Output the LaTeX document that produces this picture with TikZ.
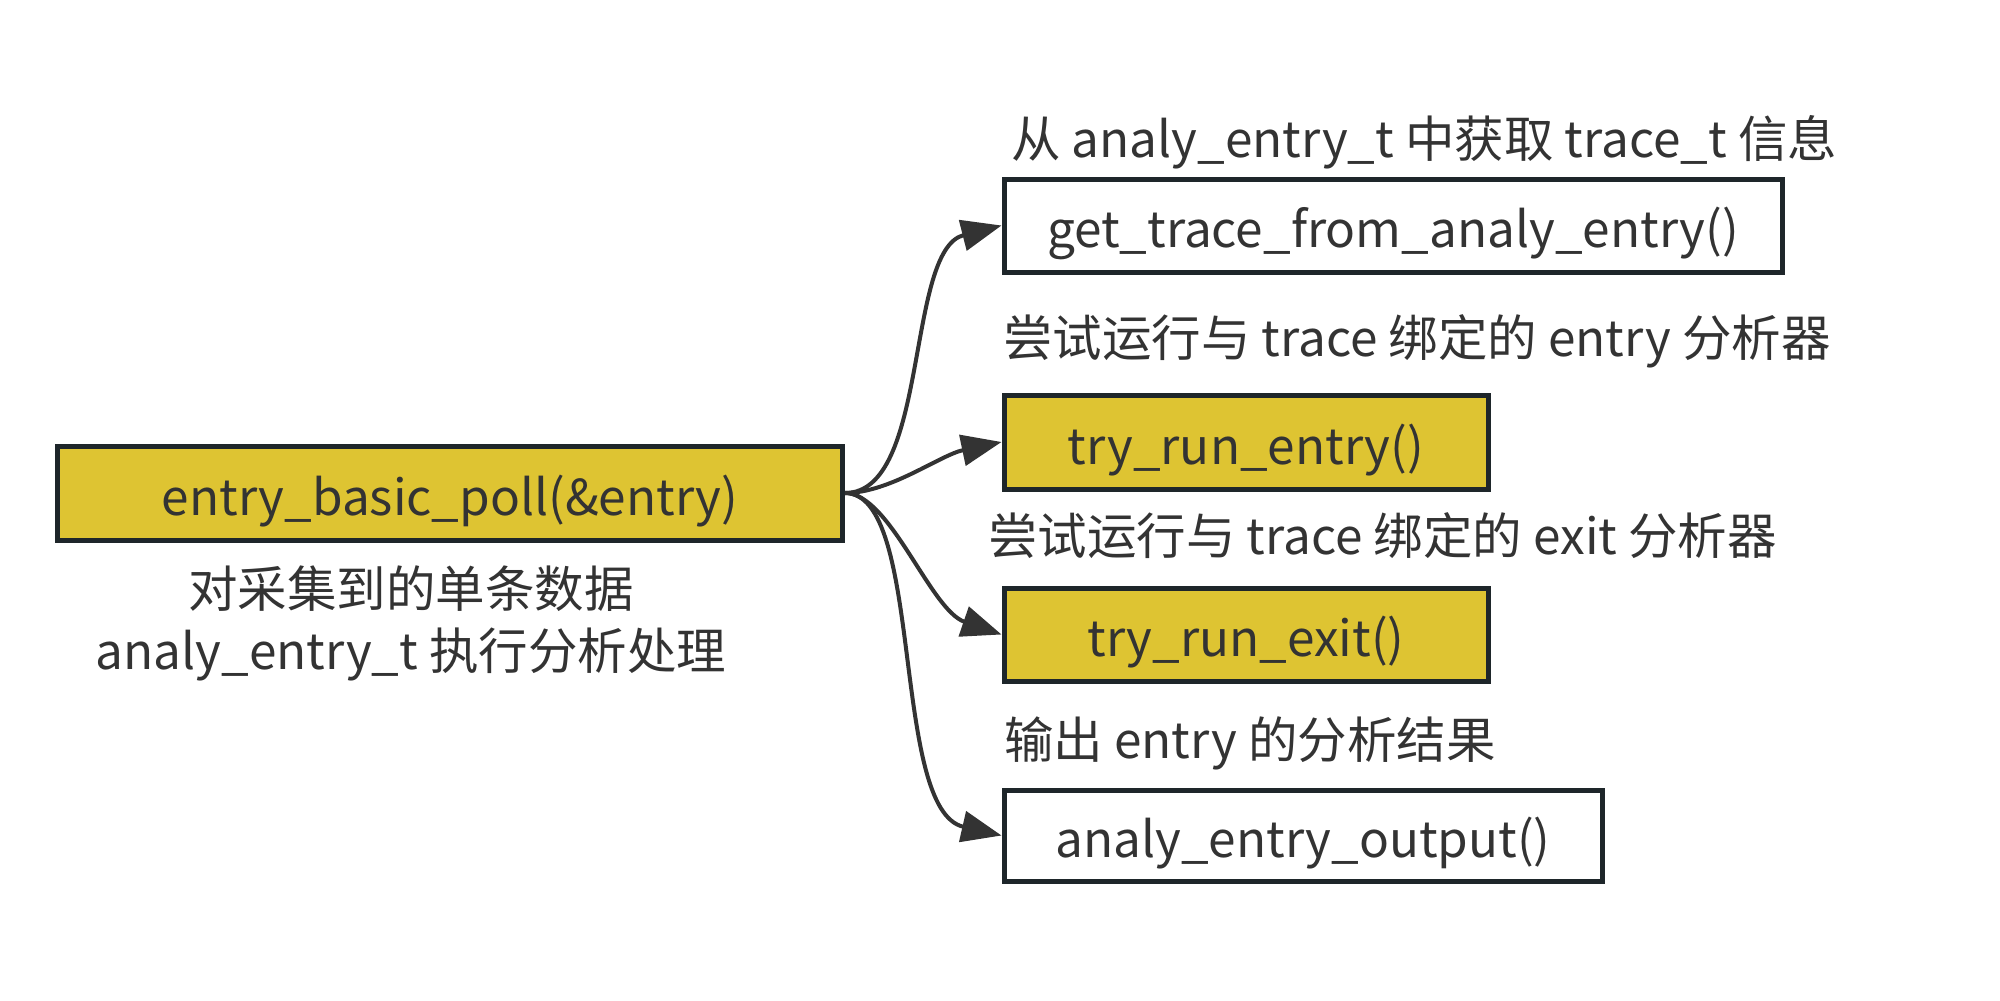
\documentclass[tikz,border=0pt]{standalone}
\usepackage{fontspec}
\setmainfont{Noto Sans CJK SC}
\usetikzlibrary{arrows.meta}
\definecolor{boxyellow}{RGB}{222,196,50}
\definecolor{boxline}{RGB}{30,38,42}
\definecolor{txt}{RGB}{51,51,51}
\tikzset{
  fn/.style={draw=boxline, line width=5pt, text=txt, inner sep=0pt,
    font=\fontsize{49.5}{56}\selectfont, text height=44pt, text depth=0pt},
  yel/.style={fn, fill=boxyellow},
  wht/.style={fn, fill=white},
  lbl/.style={text=txt, inner sep=0pt, anchor=west, font=\fontsize{49.5}{56}\selectfont},
  conn/.style={draw=txt, line width=4pt, -{Triangle[length=40pt,width=31pt]}}
}
\begin{document}
\begin{tikzpicture}[x=1pt,y=-1pt]
\useasboundingbox (0,0) rectangle (2000,1001);
\node[yel, minimum width=785pt, minimum height=94pt] (main) at (450,493) {entry\_basic\_poll(\&entry)};
\node[text=txt, inner sep=0pt, align=center, font=\fontsize{49.5}{62}\selectfont] (mainlbl) at (411,623) {对采集到的单条数据\\analy\_entry\_t 执行分析处理};

\node[wht, minimum width=778pt, minimum height=93pt] (b1) at (1393,225.5) {get\_trace\_from\_analy\_entry()};
\node[yel, minimum width=484pt, minimum height=94pt] (b2) at (1246,442) {try\_run\_entry()};
\node[yel, minimum width=484pt, minimum height=93pt] (b3) at (1246,634.5) {try\_run\_exit()};
\node[wht, minimum width=598pt, minimum height=91pt] (b4) at (1303,835.5) {analy\_entry\_output()};

\node[lbl] (l1) at (1011,142) {从 analy\_entry\_t 中获取 trace\_t 信息};
\node[lbl] (l2) at (1003,341) {尝试运行与 trace 绑定的 entry 分析器};
\node[lbl] (l3) at (988,536) {尝试运行与 trace 绑定的 exit 分析器};
\node[lbl] (l4) at (1004,743) {输出 entry 的分析结果};

\draw[conn] (main.east) .. controls (930,493) and (905,250) .. (b1.west);
\draw[conn] (main.east) .. controls (890,493) and (940,455) .. (b2.west);
\draw[conn] (main.east) .. controls (890,493) and (930,610) .. (b3.west);
\draw[conn] (main.east) .. controls (925,493) and (890,810) .. (b4.west);
\end{tikzpicture}
\end{document}
